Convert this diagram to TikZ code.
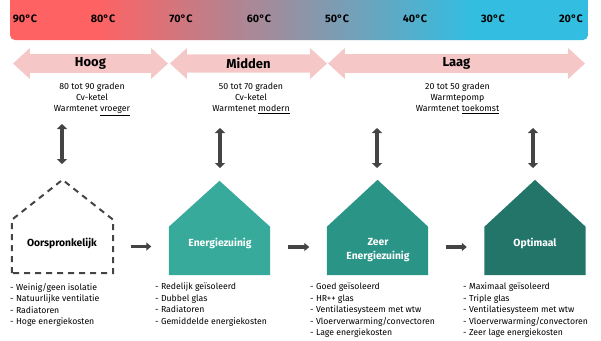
\documentclass[tikz,border=0pt]{standalone}
\usepackage{fontspec}
\setmainfont{Fira Sans}
\usetikzlibrary{shapes.arrows}
\usetikzlibrary{calc}
\usetikzlibrary{positioning, arrows.meta}

\definecolor{warm}{HTML}{FF6262}
\definecolor{cold}{HTML}{33BDE0}
\definecolor{bandpink}{HTML}{F5C7C7}
\definecolor{zuinig}{HTML}{38AA9C}
\definecolor{zeer}{HTML}{2A9486}
\definecolor{optimaal}{HTML}{23756A}
\definecolor{ink}{HTML}{444444}
\pgfdeclarehorizontalshading{tempbar}{100bp}{color(0bp)=(warm); color(32.4bp)=(warm); color(64.8bp)=(cold); color(100bp)=(cold)}

\begin{document}
\begin{tikzpicture}[x=1pt, y=-1pt]
        % Define styles for shapes
        \tikzstyle{templabel} = [font=\bfseries\fontsize{10.8}{12}\selectfont, inner sep=0pt]
        \tikzstyle{band} = [double arrow, fill=bandpink, minimum width=31pt, double arrow head extend=4pt, double arrow tip angle=85, inner sep=0pt, font=\bfseries\fontsize{13}{15}\selectfont]
        \tikzstyle{info} = [align=center, inner sep=0pt, font=\fontsize{8.8}{11}\selectfont]
        \tikzstyle{housebody} = [minimum width=101pt, inner sep=0pt]
        \tikzstyle{houselabel} = [align=center, inner sep=0pt, text=white, font=\bfseries\fontsize{10.3}{14}\selectfont]
        \tikzstyle{itemlist} = [align=left, anchor=north west, inner sep=0pt, font=\fontsize{8.7}{11.4}\selectfont]
        \tikzstyle{updown} = [{Triangle[width=10pt,length=5pt]}-{Triangle[width=10pt,length=5pt]}, line width=4pt, draw=ink]
        \tikzstyle{flow} = [-{Triangle[width=8pt,length=5pt]}, line width=3.5pt, draw=ink, shorten <=17.5pt, shorten >=17.5pt]

        \useasboundingbox (0,0) rectangle (601,340);
        \clip (0,0) rectangle (601,340);

        % Temperature bar
        \shade[shading=tempbar, rounded corners=5pt] (10,-6) rectangle (588,40);
        \foreach \t [count=\i from 0] in {90,80,70,60,50,40,30,20}
            \node[templabel] (t\t) at (25+\i*78, 19) {\t°C};

        % Draw temperature bands
        \node[band, minimum height=155pt] (hoog) at (90.5, 63.5) {Hoog};
        \node[band, minimum height=157pt] (midden) at (248.5, 63.5) {Midden};
        \node[band, minimum height=257pt] (laag) at (456.5, 63.5) {Laag};

        \node[info, anchor=north] (hooginfo) at (92, 83) {80 tot 90 graden\\Cv-ketel\\Warmtenet \underline{vroeger}};
        \node[info, anchor=north] (middeninfo) at (251, 83) {50 tot 70 graden\\Cv-ketel\\Warmtenet \underline{modern}};
        \node[info, anchor=north] (laaginfo) at (457.5, 83) {20 tot 50 graden\\Warmtepomp\\Warmtenet \underline{toekomst}};

        % Draw houses
        \node[housebody, minimum height=53pt] (oorspr) at (62.5, 246.5) {};
        \node[housebody, minimum height=48pt] (zuin) at (219.5, 251) {};
        \node[housebody, minimum height=48pt] (zeerzuin) at (377.5, 251) {};
        \node[housebody, minimum height=48pt] (optim) at (535, 251) {};

        \draw[ink, line width=2pt, dash pattern=on 6pt off 5pt] (oorspr.south west) -- (oorspr.north west) -- ([yshift=40pt]oorspr.north) -- (oorspr.north east) -- (oorspr.south east) -- cycle;
        \fill[zuinig] (zuin.south west) -- (zuin.north west) -- ([yshift=46pt]zuin.north) -- (zuin.north east) -- (zuin.south east) -- cycle;
        \fill[zeer] (zeerzuin.south west) -- (zeerzuin.north west) -- ([yshift=47pt]zeerzuin.north) -- (zeerzuin.north east) -- (zeerzuin.south east) -- cycle;
        \fill[optimaal] (optim.south west) -- (optim.north west) -- ([yshift=47pt]optim.north) -- (optim.north east) -- (optim.south east) -- cycle;

        \node[houselabel, text=black] (oorsprlabel) at (62, 243) {Oorspronkelijk};
        \node[houselabel] (zuinlabel) at (220, 243) {Energiezuinig};
        \node[houselabel] (zeerlabel) at (378, 250) {Zeer\\Energiezuinig};
        \node[houselabel] (optimlabel) at (535, 243) {Optimaal};

        % Draw arrows
        \coordinate (up1) at (62, 124);   \coordinate (down1) at (62, 164);
        \coordinate (up2) at (220, 128);  \coordinate (down2) at (220, 168);
        \coordinate (up3) at (377, 128);  \coordinate (down3) at (377, 168);
        \coordinate (up4) at (533, 128);  \coordinate (down4) at (533, 168);
        \foreach \n in {1,2,3,4}
            \draw[updown] (up\n) -- (down\n);

        \draw[flow] (oorspr.east) -- (zuin.west |- oorspr.east);
        \draw[flow] ([yshift=4pt]zuin.east) -- ([yshift=4pt]zeerzuin.west);
        \draw[flow] ([yshift=4pt]zeerzuin.east) -- ([yshift=4pt]optim.west);

        % Draw lists
        \node[itemlist] (oorsprlist) at (10, 283) {- Weinig/geen isolatie\\- Natuurlijke ventilatie\\- Radiatoren\\- Hoge energiekosten};
        \node[itemlist] (zuinlist) at (155, 283) {- Redelijk geïsoleerd\\- Dubbel glas\\- Radiatoren\\- Gemiddelde energiekosten};
        \node[itemlist] (zeerlist) at (310, 283) {- Goed geïsoleerd\\- HR++ glas\\- Ventilatiesysteem met wtw\\- Vloerverwarming/convectoren\\- Lage energiekosten};
        \node[itemlist] (optimlist) at (463, 283) {- Maximaal geïsoleerd\\- Triple glas\\- Ventilatiesysteem met wtw\\- Vloerverwarming/convectoren\\- Zeer lage energiekosten};
    \end{tikzpicture}
\end{document}
